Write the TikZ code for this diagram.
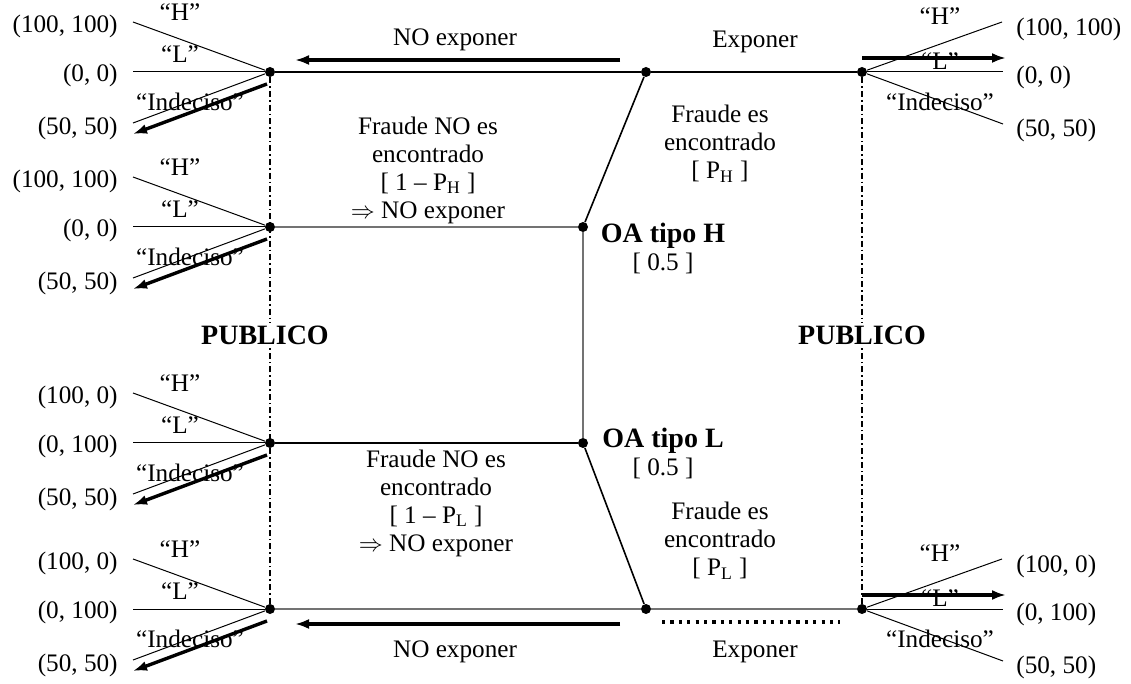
\documentclass[tikz,border=0pt]{standalone}
\usepackage{fontspec}
\setmainfont{Liberation Serif}
\usetikzlibrary{arrows.meta,positioning}

\begin{document}
\begin{tikzpicture}[
  x=0.5pt, y=-0.5pt,
  font=\fontsize{12.6}{14}\selectfont,
  dot/.style={circle, fill, inner sep=0pt, minimum size=5pt},
  txt/.style={align=center, inner sep=1pt},
  strong/.style={font=\fontsize{14}{14}\selectfont\bfseries, align=center, inner sep=1pt},
  branch/.style={line width=0.8pt},
  greybranch/.style={line width=1pt, black!55},
  fan/.style={line width=0.5pt},
  info/.style={line width=0.6pt, dash pattern=on 3pt off 1.5pt on 0.8pt off 1.5pt},
  arr/.style={-{Latex[length=7pt,width=5pt]}, line width=1.7pt},
  dots/.style={line width=2.2pt, dash pattern=on 1.6pt off 2.6pt}
]
\useasboundingbox (0,0) rectangle (1131,684);

% decision nodes
\node[dot] (l1) at (270,72) {};
\node[dot] (l2) at (270,227) {};
\node[dot] (l3) at (270,443) {};
\node[dot] (l4) at (270,609) {};
\node[dot] (m1) at (646,72) {};
\node[dot] (m2) at (646,609) {};
\node[dot] (oah) at (583,227) {};
\node[dot] (oal) at (583,443) {};
\node[dot] (r1) at (862,72) {};
\node[dot] (r2) at (862,609) {};

% tree
\draw[branch] (l1) -- (m1) -- (r1);
\draw[branch] (m1) -- (oah);
\draw[greybranch] (l2) -- (oah);
\draw[greybranch] (oah) -- (oal);
\draw[branch] (l3) -- (oal);
\draw[branch] (oal) -- (m2);
\draw[greybranch] (l4) -- (m2) -- (r2);

% labels of the auditor
\node[txt] (nohtxt) at (428,170) {Fraude NO es\\encontrado\\{}[ 1 -- P\textsubscript{H} ]\\$\Rightarrow$ NO exponer};
\node[txt] (hfound) at (720,144) {Fraude es\\encontrado\\{}[ P\textsubscript{H} ]};
\node[strong] (oahtxt) at (663,236) {OA tipo H};
\node[txt, below=0pt of oahtxt] (oahp) {[ 0.5 ]};
\node[strong] (oaltxt) at (663,441) {OA tipo L};
\node[txt, below=0pt of oaltxt] (oalp) {[ 0.5 ]};
\node[txt] (noltxt) at (436,503) {Fraude NO es\\encontrado\\{}[ 1 -- P\textsubscript{L} ]\\$\Rightarrow$ NO exponer};
\node[txt] (lfound) at (720,541) {Fraude es\\encontrado\\{}[ P\textsubscript{L} ]};

% public
\node[strong] (publ) at (265,335) {PUBLICO};
\node[strong] (pubr) at (862,335) {PUBLICO};
\draw[info] (l1) -- (l1 |- publ.north);
\draw[info] (l4) -- (l4 |- publ.south);
\draw[info] (r1) -- (r1 |- pubr.north);
\draw[info] (r2) -- (r2 |- pubr.south);

% choices
\coordinate (a1s) at (620,60);
\coordinate (a1e) at (295,60);
\coordinate (a2s) at (620,624);
\coordinate (a2e) at (295,624);
\draw[arr] (a1s) -- (a1e);
\draw[arr] (a2s) -- (a2e);
\node[txt] (noexp1) at (455,40) {NO exponer};
\node[txt] (noexp2) at (455,652) {NO exponer};
\node[txt] (exp1) at (755,42) {Exponer};
\node[txt] (exp2) at (755,652) {Exponer};
\coordinate (d1) at (662,622);
\coordinate (d2) at (840,622);
\draw[dots] (d1) -- (d2);

% left fans
\foreach \n/\ph/\pl in {l1/{(100, 100)}/{(0, 0)}, l2/{(100, 100)}/{(0, 0)},
                        l3/{(100, 0)}/{(0, 100)}, l4/{(100, 0)}/{(0, 100)}}{
  \coordinate (\n H) at ([shift={(-137,-50)}]\n.center);
  \coordinate (\n L) at ([shift={(-137,0)}]\n.center);
  \coordinate (\n I) at ([shift={(-137,51)}]\n.center);
  \coordinate (\n s) at ([shift={(-3,12)}]\n.center);
  \coordinate (\n e) at ([shift={(-137,62)}]\n.center);
  \draw[fan] (\n) -- (\n H);
  \draw[fan] (\n) -- (\n L);
  \draw[fan] (\n) -- (\n I);
  \draw[arr] (\n s) -- (\n e);
  \node[txt] at ([shift={(-90,-60)}]\n.center) {``H''};
  \node[txt] at ([shift={(-90,-18)}]\n.center) {``L''};
  \node[txt] at ([shift={(-80,30)}]\n.center) {``Indeciso''};
  \node[txt, anchor=east] at ([shift={(-150,-46)}]\n.center) {\ph};
  \node[txt, anchor=east] at ([shift={(-150,3)}]\n.center) {\pl};
  \node[txt, anchor=east] at ([shift={(-150,56)}]\n.center) {(50, 50)};
}

% right fans
\foreach \n/\ph/\pl in {r1/{(100, 100)}/{(0, 0)}, r2/{(100, 0)}/{(0, 100)}}{
  \coordinate (\n H) at ([shift={(140,-50)}]\n.center);
  \coordinate (\n L) at ([shift={(141,0)}]\n.center);
  \coordinate (\n I) at ([shift={(141,52)}]\n.center);
  \coordinate (\n s) at ([shift={(0,-14)}]\n.center);
  \coordinate (\n e) at ([shift={(144,-14)}]\n.center);
  \draw[fan] (\n) -- (\n H);
  \draw[fan] (\n) -- (\n L);
  \draw[fan] (\n) -- (\n I);
  \draw[arr] (\n s) -- (\n e);
  \node[txt] at ([shift={(78,-56)}]\n.center) {``H''};
  \node[txt] at ([shift={(78,-11)}]\n.center) {``L''};
  \node[txt] at ([shift={(78,30)}]\n.center) {``Indeciso''};
  \node[txt, anchor=west] at ([shift={(152,-43)}]\n.center) {\ph};
  \node[txt, anchor=west] at ([shift={(152,5)}]\n.center) {\pl};
  \node[txt, anchor=west] at ([shift={(152,58)}]\n.center) {(50, 50)};
}
\end{tikzpicture}
\end{document}
